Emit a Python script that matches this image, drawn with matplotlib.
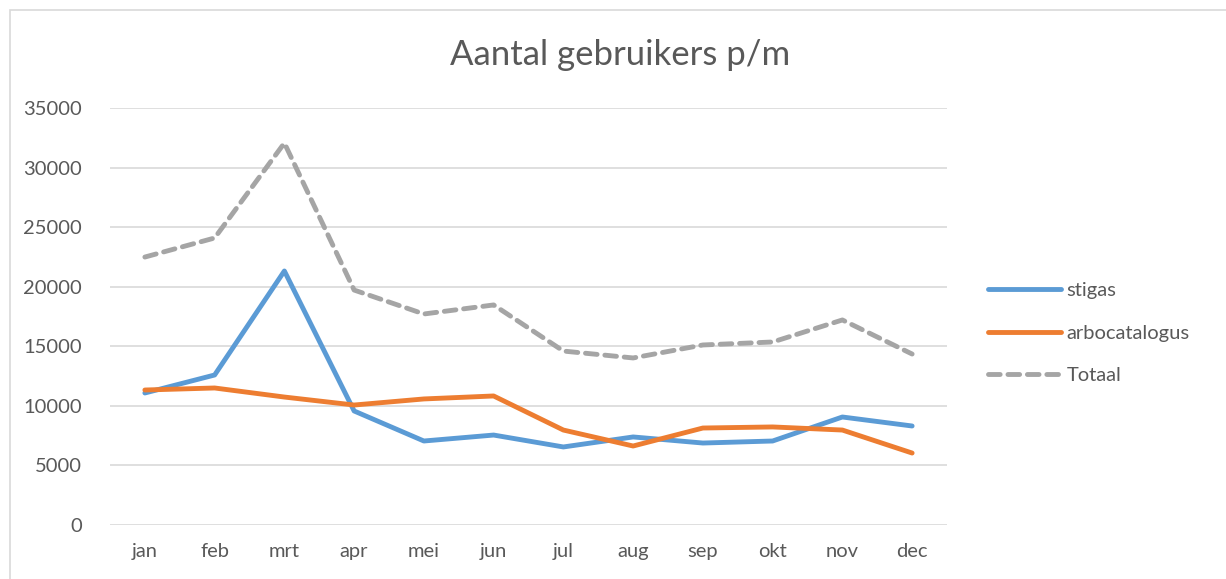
import matplotlib.pyplot as plt
from matplotlib.patches import Rectangle

months = ['jan', 'feb', 'mrt', 'apr', 'mei', 'jun', 'jul', 'aug', 'sep', 'okt', 'nov', 'dec']
stigas = [11080, 12590, 21320, 9570, 7050, 7550, 6550, 7390, 6880, 7050, 9065, 8310]
arbocatalogus = [11330, 11500, 10740, 10070, 10580, 10830, 7970, 6630, 8140, 8230, 7970, 6040]
totaal = [22490, 24090, 32060, 19720, 17710, 18470, 14600, 14020, 15110, 15360, 17210, 14350]
yticks = [0, 5000, 10000, 15000, 20000, 25000, 30000, 35000]

plt.rcParams['font.family'] = ['Lato', 'DejaVu Sans']
text_col = '#595959'

fig = plt.figure(figsize=(12.26, 5.79), dpi=100)
# chart frame
fig.patches.append(Rectangle((10 / 1226, -0.05), 1.1, 1 - 10 / 579 + 0.05,
                             transform=fig.transFigure, fill=False,
                             edgecolor='#D9D9D9', linewidth=1.2))

ax = fig.add_axes([110 / 1226, 1 - 525 / 579, (947 - 110) / 1226, (525 - 108) / 579])
x = list(range(len(months)))
ax.plot(x, stigas, color='#5B9BD5', linewidth=3.5, solid_capstyle='round', label='stigas')
ax.plot(x, arbocatalogus, color='#ED7D31', linewidth=3.5, solid_capstyle='round', label='arbocatalogus')
ax.plot(x, totaal, color='#A5A5A5', linewidth=3.5, linestyle=(0, (2.4, 1.6)),
        dash_capstyle='round', label='Totaal')

ax.set_xlim(-0.5, 11.5)
ax.set_ylim(0, 35000)
ax.set_yticks(yticks)
ax.set_xticks(x)
ax.set_xticklabels(months)
ax.grid(axis='y', color='#D9D9D9', linewidth=1.2)
ax.set_axisbelow(True)
for s in ax.spines.values():
    s.set_visible(False)
ax.tick_params(length=0, labelsize=14.5, colors=text_col)
ax.tick_params(axis='y', pad=20)
ax.tick_params(axis='x', pad=13)

fig.text(620 / 1226, 1 - 55 / 579, 'Aantal gebruikers p/m', ha='center', va='center',
         fontsize=25, color=text_col)

ax.legend(loc='center left', bbox_to_anchor=(970 / 1226, 1 - 333 / 579),
          bbox_transform=fig.transFigure, frameon=False, fontsize=14.5,
          labelcolor=text_col, handlelength=3.6, handletextpad=0.3, labelspacing=1.25)

fig.savefig('out.png', dpi=100)
